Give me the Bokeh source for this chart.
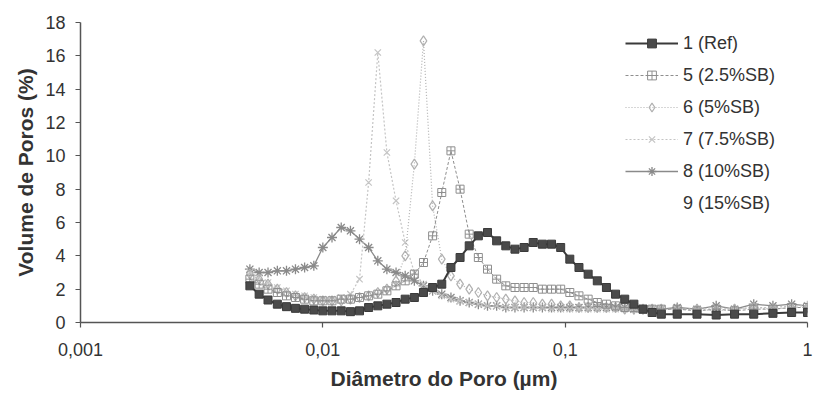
from bokeh.plotting import figure
from bokeh.models import Range1d, FixedTicker, Legend, LegendItem
from bokeh.embed import file_html
from bokeh.resources import INLINE

# Pore diameter (micrometres)
diametro = [0.00500, 0.00546, 0.00594, 0.00649, 0.00708, 0.00771, 0.00841, 0.00918, 0.01000, 0.01091,
            0.01191, 0.01300, 0.01417, 0.01545, 0.01686, 0.01838, 0.02005, 0.02187, 0.02386, 0.02602,
            0.02838, 0.03096, 0.03378, 0.03684, 0.04018, 0.04383, 0.04781, 0.05215, 0.05689, 0.06206,
            0.06769, 0.07384, 0.08054, 0.08786, 0.09583, 0.1045, 0.1140, 0.1244, 0.1357, 0.1480,
            0.1614, 0.1761, 0.1921, 0.2095, 0.2286, 0.2493, 0.29, 0.35, 0.42, 0.50,
            0.60, 0.72, 0.86, 1.00]

# Pore volume (%)
ref = [2.2, 1.7, 1.35, 1.1, 0.95, 0.85, 0.8, 0.75, 0.7, 0.7,
       0.7, 0.65, 0.7, 0.9, 1.0, 1.1, 1.2, 1.4, 1.5, 1.8,
       2.1, 2.3, 3.3, 3.9, 4.6, 5.2, 5.4, 4.9, 4.6, 4.4,
       4.5, 4.8, 4.7, 4.7, 4.5, 3.8, 3.3, 2.9, 2.5, 2.1,
       1.7, 1.4, 1.1, 0.8, 0.6, 0.5, 0.5, 0.5, 0.45, 0.5,
       0.5, 0.55, 0.6, 0.6]
sb_2_5 = [2.6, 2.3, 2.0, 1.8, 1.6, 1.5, 1.4, 1.3, 1.3, 1.3,
          1.4, 1.4, 1.5, 1.6, 1.7, 1.9, 2.2, 2.5, 2.9, 3.6,
          5.2, 7.8, 10.3, 8.0, 5.3, 3.9, 3.2, 2.6, 2.2, 2.1,
          2.1, 2.1, 2.0, 2.0, 2.0, 1.8, 1.6, 1.4, 1.2, 1.1,
          1.0, 0.9, 0.9, 0.8, 0.8, 0.8, 0.8, 0.7, 0.8, 0.7,
          0.8, 0.8, 0.9, 0.9]
sb_5 = [2.9, 2.6, 2.3, 2.0, 1.8, 1.6, 1.5, 1.4, 1.3, 1.3,
        1.3, 1.4, 1.5, 1.6, 1.8, 2.0, 2.5, 4.0, 9.5, 16.9,
        7.0, 3.8, 2.8, 2.3, 2.0, 1.8, 1.6, 1.5, 1.4, 1.3,
        1.2, 1.2, 1.1, 1.1, 1.0, 1.0, 0.9, 0.9, 0.9, 0.9,
        0.9, 0.8, 0.8, 0.8, 0.8, 0.8, 0.8, 0.8, 0.7, 0.8,
        0.9, 0.8, 0.9, 0.9]
sb_7_5 = [3.0, 2.7, 2.4, 2.1, 1.9, 1.7, 1.6, 1.5, 1.4, 1.4,
          1.5, 1.7, 2.6, 8.4, 16.2, 10.2, 7.3, 4.8, 3.0, 2.3,
          1.9, 1.6, 1.4, 1.3, 1.2, 1.1, 1.0, 1.0, 0.9, 0.9,
          0.9, 0.9, 0.9, 0.8, 0.8, 0.8, 0.8, 0.8, 0.8, 0.8,
          0.8, 0.8, 0.8, 0.8, 0.8, 0.8, 0.8, 0.8, 0.9, 0.8,
          0.9, 0.9, 1.0, 1.0]
sb_10 = [3.2, 3.0, 3.0, 3.1, 3.1, 3.2, 3.3, 3.4, 4.5, 5.1,
         5.7, 5.5, 5.0, 4.5, 3.7, 3.2, 3.0, 2.8, 2.5, 2.2,
         1.9, 1.7, 1.5, 1.3, 1.2, 1.1, 1.0, 1.0, 0.9, 0.9,
         0.9, 0.9, 0.9, 0.9, 0.9, 0.9, 0.9, 0.9, 0.9, 0.9,
         0.9, 0.9, 0.8, 0.8, 0.8, 0.8, 0.9, 0.8, 1.0, 0.8,
         1.1, 1.0, 1.1, 1.0]
sb_15 = []  # not visible in the chart

x_ticks = [0.001, 0.01, 0.1, 1]
x_tick_labels = ["0,001", "0,01", "0,1", "1"]
y_ticks = [0, 2, 4, 6, 8, 10, 12, 14, 16, 18]

FONT = "Liberation Sans"

p = figure(width=816, height=398, x_axis_type="log",
           x_range=Range1d(0.001, 1), y_range=Range1d(0, 18),
           output_backend="svg", toolbar_location=None,
           min_border_left=80, min_border_right=9, min_border_top=22, min_border_bottom=76)
p.outline_line_color = None
p.xgrid.grid_line_color = None
p.ygrid.grid_line_color = None
p.background_fill_color = "white"
p.border_fill_color = "white"

# series
r8l = p.line(diametro, sb_10, line_color="#8a8a8a", line_width=1.3)
r8m = p.scatter(diametro, sb_10, marker="asterisk", size=10, line_color="#8a8a8a", line_width=1.3)
r7l = p.line(diametro, sb_7_5, line_color="#c4c4c4", line_width=1.2, line_dash="2 2")
r7m = p.scatter(diametro, sb_7_5, marker="x", size=9, line_color="#c4c4c4", line_width=1.2)
r6l = p.line(diametro, sb_5, line_color="#b0b0b0", line_width=1.2, line_dash="1 2")
r6m = p.scatter(diametro, sb_5, marker="diamond", size=10, line_color="#b0b0b0", fill_color=None, line_width=1.2)
r5l = p.line(diametro, sb_2_5, line_color="#8e8e8e", line_width=1.0, line_dash="3 2")
r5m = p.scatter(diametro, sb_2_5, marker="square_cross", size=8, line_color="#8e8e8e", fill_color=None, line_width=1.0)
r1l = p.line(diametro, ref, line_color="#3a3a3a", line_width=2)
r1m = p.scatter(diametro, ref, marker="square", size=8, line_color="#3a3a3a", fill_color="#4a4a4a")
r9 = p.line(sb_15, sb_15, line_alpha=0)

legend = Legend(items=[
    LegendItem(label="1 (Ref)", renderers=[r1l, r1m]),
    LegendItem(label="5 (2.5%SB)", renderers=[r5l, r5m]),
    LegendItem(label="6 (5%SB)", renderers=[r6l, r6m]),
    LegendItem(label="7 (7.5%SB)", renderers=[r7l, r7m]),
    LegendItem(label="8 (10%SB)", renderers=[r8l, r8m]),
    LegendItem(label="9 (15%SB)", renderers=[r9]),
], location=(545, 108))
legend.label_text_font = FONT
legend.label_text_font_size = "18px"
legend.label_text_color = "#333333"
legend.glyph_width = 53
legend.glyph_height = 22
legend.label_height = 22
legend.label_standoff = 5
legend.spacing = 10
legend.padding = 0
legend.margin = 0
legend.border_line_color = None
legend.background_fill_alpha = 0
p.add_layout(legend)

# axes
xa = p.xaxis[0]
xa.ticker = FixedTicker(ticks=x_ticks, minor_ticks=[])
xa.major_label_overrides = {t: l for t, l in zip(x_ticks, x_tick_labels)}
ya = p.yaxis[0]
ya.ticker = FixedTicker(ticks=y_ticks, minor_ticks=[])
for ax in (xa, ya):
    ax.axis_line_color = "#555555"
    ax.axis_line_width = 1.5
    ax.major_tick_line_color = "#555555"
    ax.major_tick_line_width = 1.2
    ax.major_tick_in = 0
    ax.major_tick_out = 5
    ax.minor_tick_line_color = None
    ax.major_label_text_font = FONT
    ax.major_label_text_font_size = "18px"
    ax.major_label_text_color = "#333333"
    ax.axis_label_text_font = FONT
    ax.axis_label_text_font_style = "bold"
    ax.axis_label_text_font_size = "21px"
    ax.axis_label_text_color = "#333333"
xa.axis_label = "Diâmetro do Poro (µm)"
ya.axis_label = "Volume de Poros (%)"
xa.major_label_standoff = 15
ya.major_label_standoff = 10
xa.axis_label_standoff = 8
ya.axis_label_standoff = 5

open("out.html", "w").write(file_html(p, INLINE))
